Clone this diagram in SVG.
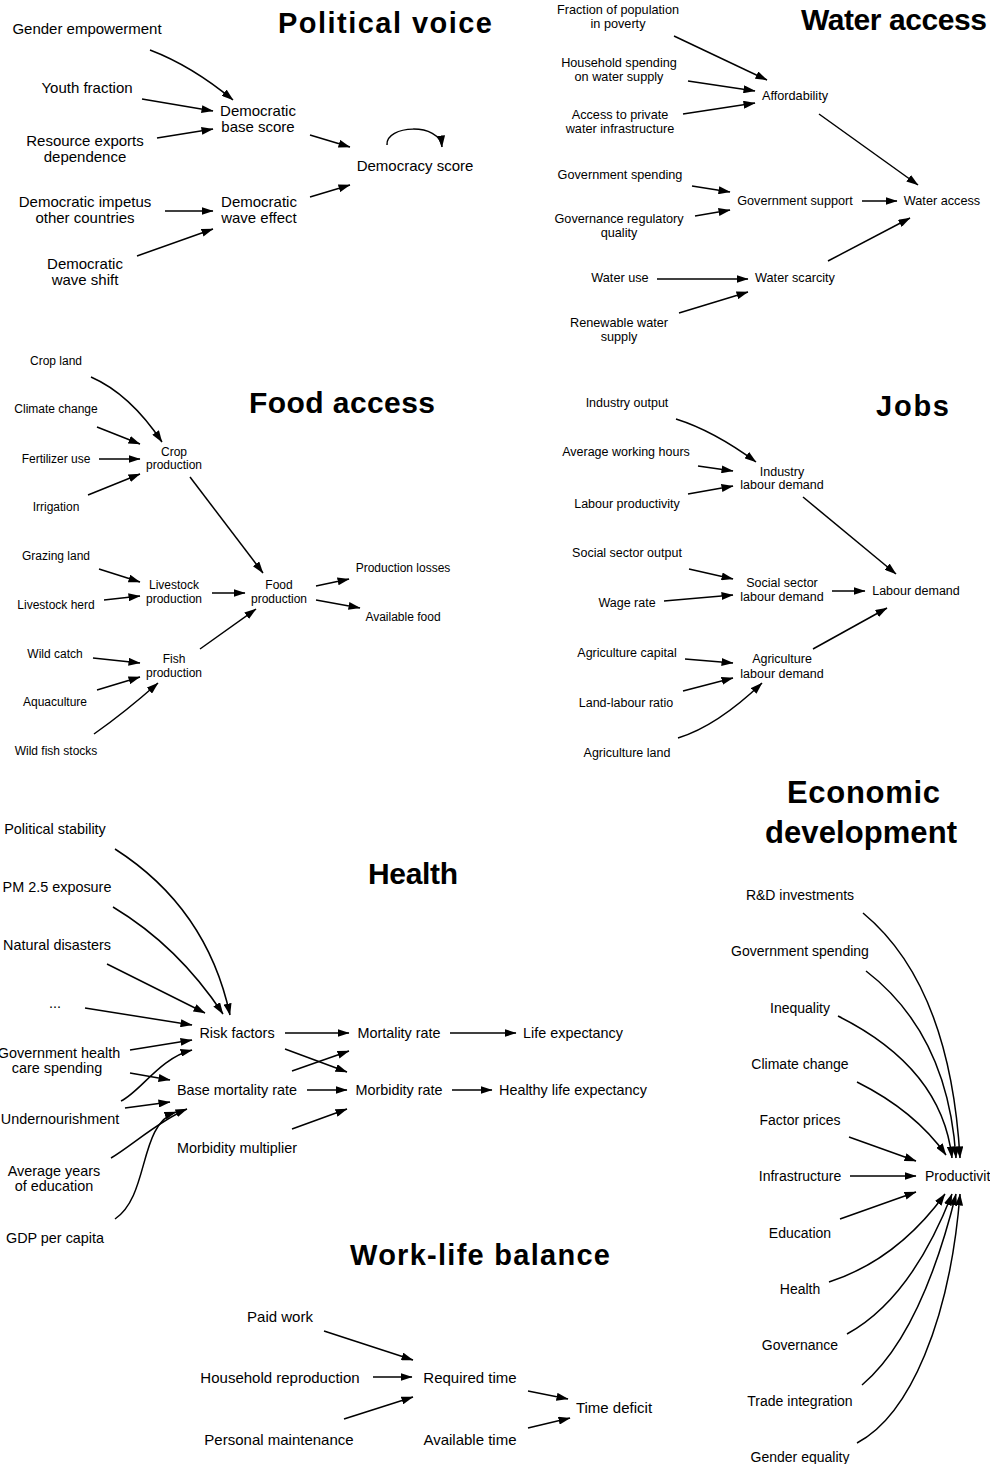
<svg xmlns="http://www.w3.org/2000/svg" width="990" height="1464" viewBox="0 0 990 1464">
<style>
text{font-family:"Liberation Sans",Arial,Helvetica,sans-serif;fill:#000}
.t{text-anchor:middle}
.pv{font-size:15px}.wa{font-size:12.7px}.fa{font-size:12px}.jb{font-size:12.5px}.hl{font-size:14.4px}.ed{font-size:14px}.wl{font-size:15px}
.ttl{font-weight:bold;font-size:29px}
.c{fill:none;stroke:#000;stroke-width:1.5;marker-end:url(#ah)}
</style>
<defs>
<marker id="ah" markerUnits="userSpaceOnUse" viewBox="0 0 12 8" markerWidth="12" markerHeight="8" refX="11.5" refY="4" orient="auto">
<path d="M0,0 L12,4 L0,8 Z" fill="#000"/>
</marker>
</defs>
<rect width="990" height="1464" fill="#fff"/>
<g id="titles">
<text class="ttl" x="278" y="33" textLength="214" lengthAdjust="spacing">Political voice</text>
<text class="ttl" x="801" y="30" style="font-size:30px" textLength="186" lengthAdjust="spacing">Water access</text>
<text class="ttl" x="249" y="413" style="font-size:30px" textLength="186" lengthAdjust="spacing">Food access</text>
<text class="ttl" x="876" y="416" textLength="73" lengthAdjust="spacing">Jobs</text>
<text class="ttl" x="787" y="803" style="font-size:31px" textLength="153" lengthAdjust="spacing">Economic</text>
<text class="ttl" x="765" y="843" style="font-size:31px" textLength="192" lengthAdjust="spacing">development</text>
<text class="ttl" x="368" y="884" style="font-size:30px" textLength="90" lengthAdjust="spacing">Health</text>
<text class="ttl" x="350" y="1265" textLength="260" lengthAdjust="spacing">Work-life balance</text>
</g>
<g id="connectors">
<path class="c" d="M150,50 Q192,66 233,100"/>
<path class="c" d="M142,99 L213,111"/>
<path class="c" d="M157,138 L213,129"/>
<path class="c" d="M310,135 L350,147"/>
<path class="c" d="M165,211 L213,211"/>
<path class="c" d="M137,256 L213,229"/>
<path class="c" d="M310,197 L350,185"/>
<path class="c" d="M387,145 C385,125 440,122 442,147"/>
<path class="c" d="M674,36 L767,80"/>
<path class="c" d="M688,81 L755,91"/>
<path class="c" d="M683,114 L755,103"/>
<path class="c" d="M819,114 L918,185"/>
<path class="c" d="M692,186 L730,192"/>
<path class="c" d="M695,216 L730,210"/>
<path class="c" d="M862,201 L897,201"/>
<path class="c" d="M828,261 L910,218"/>
<path class="c" d="M657,279 L748,279"/>
<path class="c" d="M679,313 L748,292"/>
<path class="c" d="M91,377 Q130,394 162,442"/>
<path class="c" d="M97,427 L140,444"/>
<path class="c" d="M99,459 L140,459"/>
<path class="c" d="M88,495 L140,474"/>
<path class="c" d="M190,477 L263,573"/>
<path class="c" d="M99,569 L140,582"/>
<path class="c" d="M104,600 L140,596"/>
<path class="c" d="M212,593 L245,593"/>
<path class="c" d="M316,586 L349,579"/>
<path class="c" d="M316,600 L360,608"/>
<path class="c" d="M200,649 L256,609"/>
<path class="c" d="M93,658 L140,663"/>
<path class="c" d="M97,690 L140,677"/>
<path class="c" d="M94,734 Q124,713 158,683"/>
<path class="c" d="M676,419 Q714,431 756,462"/>
<path class="c" d="M698,466 L733,471"/>
<path class="c" d="M688,494 L733,486"/>
<path class="c" d="M803,497 L896,574"/>
<path class="c" d="M689,569 L733,579"/>
<path class="c" d="M664,601 L733,595"/>
<path class="c" d="M832,591 L865,591"/>
<path class="c" d="M813,649 L887,608"/>
<path class="c" d="M685,659 L733,663"/>
<path class="c" d="M683,691 L733,678"/>
<path class="c" d="M678,738 Q717,726 762,683"/>
<path class="c" d="M115,849 Q207,908 230,1015"/>
<path class="c" d="M113,907 Q178,946 223,1014"/>
<path class="c" d="M107,964 L205,1013"/>
<path class="c" d="M85,1008 L192,1025"/>
<path class="c" d="M130,1050 L192,1040"/>
<path class="c" d="M121,1101 C140,1092 160,1058 192,1050"/>
<path class="c" d="M130,1073 L170,1080"/>
<path class="c" d="M125,1108 L170,1102"/>
<path class="c" d="M111,1158 C130,1147 160,1120 187,1109"/>
<path class="c" d="M115,1219 C150,1195 138,1125 176,1112"/>
<path class="c" d="M285,1033 L349,1033"/>
<path class="c" d="M285,1049 L347,1072"/>
<path class="c" d="M292,1071 L349,1051"/>
<path class="c" d="M307,1090 L347,1090"/>
<path class="c" d="M292,1129 L347,1109"/>
<path class="c" d="M450,1033 L516,1033"/>
<path class="c" d="M452,1090 L492,1090"/>
<path class="c" d="M863,913 Q950,985 960,1158"/>
<path class="c" d="M866,971 Q948,1034 956,1158"/>
<path class="c" d="M838,1016 Q942,1068 952,1158"/>
<path class="c" d="M857,1082 Q915,1111 946,1155"/>
<path class="c" d="M849,1137 L916,1161"/>
<path class="c" d="M850,1176 L916,1176"/>
<path class="c" d="M840,1219 L916,1192"/>
<path class="c" d="M829,1282 Q897,1260 945,1194"/>
<path class="c" d="M847,1334 Q911,1299 952,1194"/>
<path class="c" d="M862,1385 Q921,1335 956,1194"/>
<path class="c" d="M857,1443 C910,1415 950,1320 960,1194"/>
<path class="c" d="M324,1331 L413,1360"/>
<path class="c" d="M373,1377 L412,1377"/>
<path class="c" d="M344,1419 L413,1397"/>
<path class="c" d="M528,1391 L568,1399"/>
<path class="c" d="M528,1428 L570,1418"/>
</g>
<!-- Political voice -->
<g id="gender-empowerment"><text class="t pv" x="87" y="34">Gender empowerment</text></g>
<g id="youth-fraction"><text class="t pv" x="87" y="93">Youth fraction</text></g>
<g id="resource-exports"><text class="t pv" x="85" y="146">Resource exports</text><text class="t pv" x="85" y="162">dependence</text></g>
<g id="democratic-impetus"><text class="t pv" x="85" y="207">Democratic impetus</text><text class="t pv" x="85" y="223">other countries</text></g>
<g id="democratic-wave-shift"><text class="t pv" x="85" y="269">Democratic</text><text class="t pv" x="85" y="285">wave shift</text></g>
<g id="democratic-base-score"><text class="t pv" x="258" y="116">Democratic</text><text class="t pv" x="258" y="132">base score</text></g>
<g id="democratic-wave-effect"><text class="t pv" x="259" y="207">Democratic</text><text class="t pv" x="259" y="223">wave effect</text></g>
<g id="democracy-score"><text class="t pv" x="415" y="171">Democracy score</text></g>
<!-- Water access -->
<g id="fraction-poverty"><text class="t wa" x="618" y="14">Fraction of population</text><text class="t wa" x="618" y="28">in poverty</text></g>
<g id="household-spending"><text class="t wa" x="619" y="67">Household spending</text><text class="t wa" x="619" y="81">on water supply</text></g>
<g id="access-private"><text class="t wa" x="620" y="119">Access to private</text><text class="t wa" x="620" y="133">water infrastructure</text></g>
<g id="affordability"><text class="t wa" x="795" y="100">Affordability</text></g>
<g id="government-spending-w"><text class="t wa" x="620" y="179">Government spending</text></g>
<g id="governance-regulatory"><text class="t wa" x="619" y="223">Governance regulatory</text><text class="t wa" x="619" y="237">quality</text></g>
<g id="government-support"><text class="t wa" x="795" y="205">Government support</text></g>
<g id="water-access"><text class="t wa" x="942" y="205">Water access</text></g>
<g id="water-use"><text class="t wa" x="620" y="282">Water use</text></g>
<g id="water-scarcity"><text class="t wa" x="795" y="282">Water scarcity</text></g>
<g id="renewable-water"><text class="t wa" x="619" y="327">Renewable water</text><text class="t wa" x="619" y="341">supply</text></g>
<!-- Food access -->
<g id="crop-land"><text class="t fa" x="56" y="365">Crop land</text></g>
<g id="climate-change-f"><text class="t fa" x="56" y="413">Climate change</text></g>
<g id="fertilizer-use"><text class="t fa" x="56" y="463">Fertilizer use</text></g>
<g id="irrigation"><text class="t fa" x="56" y="511">Irrigation</text></g>
<g id="crop-production"><text class="t fa" x="174" y="456">Crop</text><text class="t fa" x="174" y="469">production</text></g>
<g id="grazing-land"><text class="t fa" x="56" y="560">Grazing land</text></g>
<g id="livestock-herd"><text class="t fa" x="56" y="609">Livestock herd</text></g>
<g id="livestock-production"><text class="t fa" x="174" y="589">Livestock</text><text class="t fa" x="174" y="603">production</text></g>
<g id="food-production"><text class="t fa" x="279" y="589">Food</text><text class="t fa" x="279" y="603">production</text></g>
<g id="production-losses"><text class="t fa" x="403" y="572">Production losses</text></g>
<g id="available-food"><text class="t fa" x="403" y="621">Available food</text></g>
<g id="wild-catch"><text class="t fa" x="55" y="658">Wild catch</text></g>
<g id="fish-production"><text class="t fa" x="174" y="663">Fish</text><text class="t fa" x="174" y="677">production</text></g>
<g id="aquaculture"><text class="t fa" x="55" y="706">Aquaculture</text></g>
<g id="wild-fish-stocks"><text class="t fa" x="56" y="755">Wild fish stocks</text></g>
<!-- Jobs -->
<g id="industry-output"><text class="t jb" x="627" y="407">Industry output</text></g>
<g id="average-working-hours"><text class="t jb" x="626" y="456">Average working hours</text></g>
<g id="labour-productivity"><text class="t jb" x="627" y="508">Labour productivity</text></g>
<g id="industry-labour-demand"><text class="t jb" x="782" y="476">Industry</text><text class="t jb" x="782" y="489">labour demand</text></g>
<g id="social-sector-output"><text class="t jb" x="627" y="557">Social sector output</text></g>
<g id="wage-rate"><text class="t jb" x="627" y="607">Wage rate</text></g>
<g id="social-sector-labour-demand"><text class="t jb" x="782" y="587">Social sector</text><text class="t jb" x="782" y="601">labour demand</text></g>
<g id="labour-demand"><text class="t jb" x="916" y="595">Labour demand</text></g>
<g id="agriculture-capital"><text class="t jb" x="627" y="657">Agriculture capital</text></g>
<g id="land-labour-ratio"><text class="t jb" x="626" y="707">Land-labour ratio</text></g>
<g id="agriculture-land"><text class="t jb" x="627" y="757">Agriculture land</text></g>
<g id="agriculture-labour-demand"><text class="t jb" x="782" y="663">Agriculture</text><text class="t jb" x="782" y="678">labour demand</text></g>
<!-- Health -->
<g id="political-stability"><text class="t hl" x="55" y="834">Political stability</text></g>
<g id="pm25-exposure"><text class="t hl" x="57" y="892">PM 2.5 exposure</text></g>
<g id="natural-disasters"><text class="t hl" x="57" y="950">Natural disasters</text></g>
<g id="ellipsis"><text class="t hl" x="55" y="1008">...</text></g>
<g id="government-health-spending"><text class="t hl" x="59" y="1058">Government health</text><text class="t hl" x="57" y="1073">care spending</text></g>
<g id="undernourishment"><text class="t hl" x="60" y="1124">Undernourishment</text></g>
<g id="average-years-education"><text class="t hl" x="54" y="1176">Average years</text><text class="t hl" x="54" y="1191">of education</text></g>
<g id="gdp-per-capita"><text class="t hl" x="55" y="1243">GDP per capita</text></g>
<g id="risk-factors"><text class="t hl" x="237" y="1038">Risk factors</text></g>
<g id="base-mortality-rate"><text class="t hl" x="237" y="1095">Base mortality rate</text></g>
<g id="morbidity-multiplier"><text class="t hl" x="237" y="1153">Morbidity multiplier</text></g>
<g id="mortality-rate"><text class="t hl" x="399" y="1038">Mortality rate</text></g>
<g id="morbidity-rate"><text class="t hl" x="399" y="1095">Morbidity rate</text></g>
<g id="life-expectancy"><text class="t hl" x="573" y="1038">Life expectancy</text></g>
<g id="healthy-life-expectancy"><text class="t hl" x="573" y="1095">Healthy life expectancy</text></g>
<!-- Economic development -->
<g id="rd-investments"><text class="t ed" x="800" y="900">R&amp;D investments</text></g>
<g id="government-spending-e"><text class="t ed" x="800" y="956">Government spending</text></g>
<g id="inequality"><text class="t ed" x="800" y="1013">Inequality</text></g>
<g id="climate-change-e"><text class="t ed" x="800" y="1069">Climate change</text></g>
<g id="factor-prices"><text class="t ed" x="800" y="1125">Factor prices</text></g>
<g id="infrastructure"><text class="t ed" x="800" y="1181">Infrastructure</text></g>
<g id="education"><text class="t ed" x="800" y="1238">Education</text></g>
<g id="health"><text class="t ed" x="800" y="1294">Health</text></g>
<g id="governance"><text class="t ed" x="800" y="1350">Governance</text></g>
<g id="trade-integration"><text class="t ed" x="800" y="1406">Trade integration</text></g>
<g id="gender-equality"><text class="t ed" x="800" y="1462">Gender equality</text></g>
<g id="productivity"><text class="ed" x="925" y="1181">Productivit</text></g>
<!-- Work-life balance -->
<g id="paid-work"><text class="t wl" x="280" y="1322">Paid work</text></g>
<g id="household-reproduction"><text class="t wl" x="280" y="1383">Household reproduction</text></g>
<g id="personal-maintenance"><text class="t wl" x="279" y="1445">Personal maintenance</text></g>
<g id="required-time"><text class="t wl" x="470" y="1383">Required time</text></g>
<g id="available-time"><text class="t wl" x="470" y="1445">Available time</text></g>
<g id="time-deficit"><text class="t wl" x="614" y="1413">Time deficit</text></g>
</svg>
